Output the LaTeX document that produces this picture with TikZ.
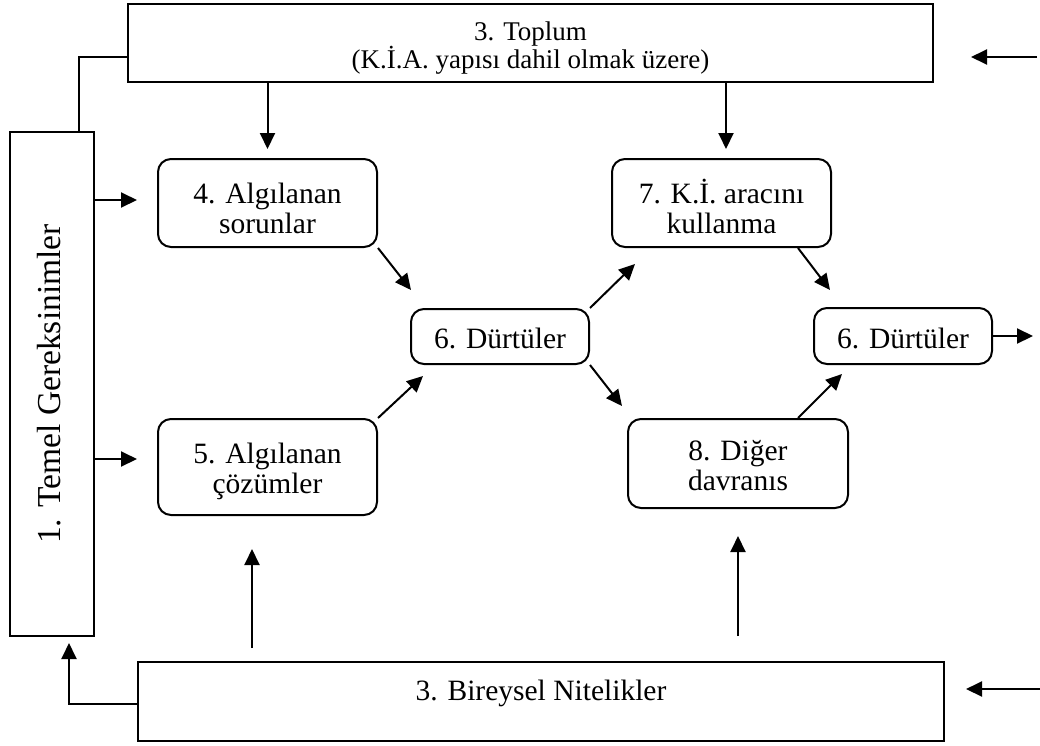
\documentclass[tikz,border=0pt]{standalone}
\usepackage{fontspec}
\setmainfont{Liberation Serif}
\usetikzlibrary{arrows.meta,calc}
\newcommand\twoln[3][30pt]{\vtop{\baselineskip=#1\lineskiplimit=-100pt\lineskip=0pt\halign{\hfil##\hfil\cr#2\cr#3\cr}}}

\begin{document}
\begin{tikzpicture}[x=1pt,y=1pt,
  line width=2pt,
  sqbox/.style={draw, rectangle, inner sep=0pt},
  rbox/.style={draw, rectangle, rounded corners=13pt, inner sep=0pt, font=\fontsize{29.5}{30}\selectfont},
  arr/.style={-{Triangle[length=16pt,width=15pt]}},
  ]
\useasboundingbox (0,0) rectangle (1040,-745);

% boxes
\node[sqbox, minimum width=805pt, minimum height=78pt, font=\fontsize{27}{28}\selectfont, text height=19pt, text depth=25pt] (T) at (530.5,-43) {\twoln[28pt]{3. Toplum}{(K.İ.A. yapısı dahil olmak üzere)}};
\node[sqbox, rotate=90, minimum width=504pt, minimum height=84pt, font=\fontsize{33.5}{36}\selectfont, text height=23pt, text depth=7pt] (L) at (52,-384) {1. Temel Gereksinimler};
\node[rbox, minimum width=219pt, minimum height=88pt, text height=21pt, text depth=21pt] (b4) at (267.5,-203) {\twoln{4. Algılanan}{sorunlar}};
\node[rbox, minimum width=219pt, minimum height=96pt, text height=21pt, text depth=29pt] (b5) at (267.5,-467) {\twoln{5. Algılanan}{çözümler}};
\node[rbox, minimum width=178pt, minimum height=55pt, text height=23pt, text depth=0pt] (b6) at (500,-336.5) {6. Dürtüler};
\node[rbox, minimum width=219pt, minimum height=88pt, text height=21pt, text depth=21pt] (b7) at (721.5,-203) {\twoln{7. K.İ. aracını}{kullanma}};
\node[rbox, minimum width=178pt, minimum height=56pt, text height=24pt, text depth=0pt] (b6b) at (903,-336) {6. Dürtüler};
\node[rbox, minimum width=220pt, minimum height=89pt, text height=21pt, text depth=28pt] (b8) at (738,-463.5) {\twoln{8. Diğer}{davranıs}};
\node[sqbox, minimum width=806pt, minimum height=79pt, font=\fontsize{29.5}{30}\selectfont, text height=20pt, text depth=23pt] (B) at (541,-701.5) {3. Bireysel Nitelikler};

% connectors from Toplum
\draw[arr, shorten >=9pt] (T.south -| b4.north) -- (b4.north);
\coordinate (c7) at ([xshift=4.5pt]b7.north);
\draw[arr, shorten >=9pt] (T.south -| c7) -- (c7);

% from Temel Gereksinimler
\coordinate (c4l) at ([yshift=3pt]b4.west);
\draw[arr, shorten >=20pt] (c4l -| L.south) -- (c4l);
\coordinate (c5l) at ([yshift=8pt]b5.west);
\draw[arr, shorten >=20pt] (c5l -| L.south) -- (c5l);
\draw ([xshift=27pt]L.east) |- ([yshift=-14pt]T.west);

% diagonal connectors
\draw[arr] (b4.south east) -- ([shift={(1pt,18pt)}]b6.north west);
\draw[arr] (b5.north east) -- ([shift={(13pt,-11pt)}]b6.south west);
\draw[arr] (b6.north east) -- ([shift={(24pt,-16pt)}]b7.south west);
\draw[arr] (b6.south east) -- ([shift={(-5pt,12pt)}]b8.north west);
\draw[arr] ([xshift=-34pt]b7.south east) -- ([shift={(17pt,17pt)}]b6b.north west);
\draw[arr] ([xshift=-51pt]b8.north east) -- ([shift={(29pt,-9pt)}]b6b.south west);

% outputs / inputs on the right
\coordinate (out) at (1033,-336);
\draw[arr] (b6b.east) -- (out);
\coordinate (inT) at (1037,-57);
\draw[arr, shorten >=37pt] (inT) -- (inT -| T.east);
\coordinate (inB) at (1040,-689);
\draw[arr, shorten >=21pt] (inB) -- (inB -| B.east);

% from Bireysel Nitelikler
\draw[arr, shorten >=6pt] ([yshift=-2.5pt]B.west) -| ([xshift=17pt]L.west);
\coordinate (u5) at ([xshift=-15.5pt]b5.south);
\draw[arr, shorten <=13pt, shorten >=33pt] (u5 |- B.north) -- (u5);
\draw[arr, shorten <=25pt, shorten >=27pt] (b8.south |- B.north) -- (b8.south);
\end{tikzpicture}
\end{document}
